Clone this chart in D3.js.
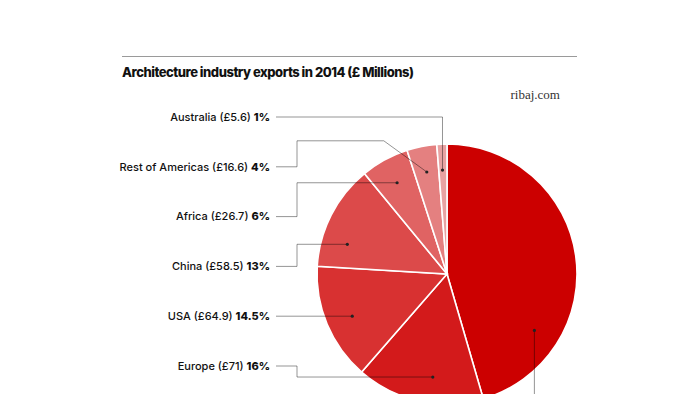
<!DOCTYPE html>
<meta charset="utf-8">
<script src="https://d3js.org/d3.v7.min.js"></script>
<style>
  body { margin: 0; background: #fff; }
  text { font-family: Inter, "Noto Sans", sans-serif; }
  text.serif { font-family: "Liberation Serif", "DejaVu Serif", serif; }
</style>
<body>
<div id="my_visual"></div>
<script>

// Slices, clockwise from 12 o'clock
var regions  = ["Middle East", "Europe", "USA", "China", "Africa", "Rest of Americas", "Australia"];
var values   = [203.1, 71, 64.9, 58.5, 26.7, 16.6, 5.6];
var amounts  = ["£203.1", "£71", "£64.9", "£58.5", "£26.7", "£16.6", "£5.6"];
var percents = ["45.5%", "16%", "14.5%", "13%", "6%", "4%", "1%"];
var colours  = ["#cc0000", "#d31a1b", "#d83131", "#dc4a4a", "#e06363", "#e48080", "#e8a2a2"];

var width = 700, height = 394;
var cx = 447, cy = 274, radius = 130;

var svg = d3.select("#my_visual")
  .append("svg")
    .attr("width", width)
    .attr("height", height);

// top rule + title
svg.append("line")
  .attr("x1", 122).attr("x2", 577)
  .attr("y1", 56.5).attr("y2", 56.5)
  .attr("stroke", "#9a9a9a").attr("stroke-width", 1);

svg.append("text")
  .attr("x", 122).attr("y", 77)
  .attr("font-size", 13).attr("font-weight", 800)
  .attr("fill", "#111")
  .attr("textLength", 292)
  .text("Architecture industry exports in 2014 (£ Millions)");

svg.append("text")
  .attr("class", "serif")
  .attr("x", 560).attr("y", 99)
  .attr("text-anchor", "end")
  .attr("font-size", 13).attr("fill", "#333")
  .text("ribaj.com");

var data = regions.map(function(r, i) {
  return {region: r, value: values[i], amount: amounts[i], pct: percents[i], colour: colours[i]};
});

var pie = d3.pie().sort(null).value(function(d) { return d.value; });
var arcs = pie(data);
var arc = d3.arc().innerRadius(0).outerRadius(radius);

var g = svg.append("g").attr("transform", "translate(" + cx + "," + cy + ")");

g.selectAll("path")
  .data(arcs)
  .enter()
  .append("path")
    .attr("d", arc)
    .attr("fill", function(d) { return d.data.colour; })
    .attr("stroke", "#fff")
    .attr("stroke-width", 1.6);

// where in each slice the leader dot sits (fraction of the slice's arc)
var anchorFrac = [0.75, 0.42, 0.47, 0.28, 0.5, 0.5, 0.45];
var dotR = radius * 0.8;

// label rows on the left
var labelY = d3.scalePoint()
  .domain(regions.slice(1).reverse())
  .range([117, 366]);

var labelX = 270, elbowX = 297;

arcs.forEach(function(a, i) {
  var ang = a.startAngle + (a.endAngle - a.startAngle) * anchorFrac[i];
  var dx = cx + Math.sin(ang) * dotR;
  var dy = cy - Math.cos(ang) * dotR;
  var pts;

  if (i === 0) {
    pts = [[dx, dy], [dx, height + 20]];
  } else {
    var ly = labelY(a.data.region);
    if (a.data.region === "Australia") {
      pts = [[labelX + 6, ly], [dx, ly], [dx, dy]];
    } else if (a.data.region === "USA") {
      dy = ly;
      pts = [[labelX + 6, ly], [dx, ly]];
    } else if (a.data.region === "Rest of Americas") {
      var up = ly - 26;
      pts = [[labelX + 6, ly], [elbowX, ly], [elbowX, up], [dx - 43, up], [dx, dy]];
    } else {
      pts = [[labelX + 6, ly], [elbowX, ly], [elbowX, dy], [dx, dy]];
    }

    var t = svg.append("text")
      .attr("x", labelX).attr("y", ly)
      .attr("dy", "0.35em")
      .attr("text-anchor", "end")
      .attr("font-size", 11)
      .attr("font-weight", 500)
      .attr("fill", "#111");
    t.append("tspan").text(a.data.region + " (" + a.data.amount + ") ");
    t.append("tspan").attr("font-weight", 800).text(a.data.pct);
  }

  svg.append("path")
    .attr("d", d3.line()(pts))
    .attr("fill", "none")
    .attr("stroke", "#000")
    .attr("stroke-opacity", 0.42)
    .attr("stroke-width", 1);

  svg.append("circle")
    .attr("cx", dx).attr("cy", dy)
    .attr("r", 1.6)
    .attr("fill", "#222");
});

</script>
</body>
</html>
